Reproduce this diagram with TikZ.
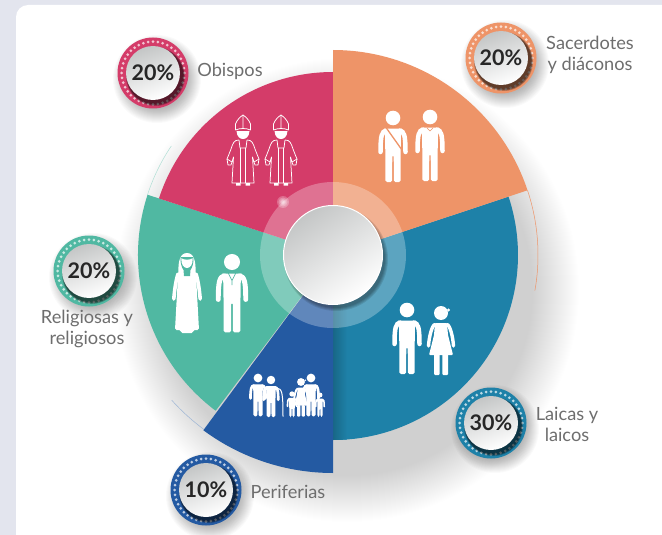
\documentclass[tikz,border=0pt]{standalone}
\usepackage{fontspec}
\setmainfont{Lato}
\definecolor{cRed}{HTML}{D43C69}
\definecolor{cOrange}{HTML}{EE9468}
\definecolor{cBlue}{HTML}{1E81A8}
\definecolor{cNavy}{HTML}{245AA2}
\definecolor{cTeal}{HTML}{50B8A2}
\definecolor{cPage}{HTML}{E3E5EE}
\definecolor{cLabel}{HTML}{6E6E6E}
\definecolor{cDisc}{HTML}{C4C6C6}
\tikzset{
  lbl/.style={text=cLabel,align=center,font=\fontsize{18.2}{21}\selectfont,inner sep=0pt},
  badgedisc/.style={circle,minimum size=54pt,inner sep=0pt,top color=cDisc,bottom color=white,shading angle=20,text=black!85,font=\bfseries\fontsize{21.5}{23}\selectfont},
  thinarc/.style={line width=.5pt},
}
\newcommand\sector[4]{\fill[#1] (0,0) -- (#2:#4) arc[start angle=#2,end angle=#3,radius=#4] -- cycle;}
\newcommand\badge[5]{% name,x,y,colour,text
  \begin{scope}[shift={(#2,-#3)}]
    \foreach \r in {44,43,...,30} \fill[black,opacity=.018] (4,-6) circle (\r);
    \fill[#4] (0,0) circle (35.5);
    \foreach \a in {0,9,...,351} \fill[white,opacity=.7] (\a:31.3) circle (1.5);
    \foreach \r in {29.5,29,28.5,28} \fill[black,opacity=.2] (2.5,-3.5) circle (\r);
  \end{scope}
  \node[badgedisc] (#1) at (#2,-#3) {#5};
}
\newcommand\manicon[4]{% x, head y, scale, extra
  \begin{scope}[shift={(#1,-#2)},xscale=#3,yscale=-#3]
    \fill[white] (0,0) circle (7.3);
    \fill[white,rounded corners=1.5pt] (-10,10.5) -- (10,10.5) -- (8,16) -- (7.6,40) -- (7.5,64) -- (.9,64) -- (.7,37) -- (-.7,37) -- (-.9,64) -- (-7.5,64) -- (-7.6,40) -- (-8,16) -- cycle;
    \draw[white,line width=#3*4.5pt,line cap=round] (-7,12.6) .. controls (-11,13.5) and (-12.5,17) .. (-12.5,34);
    \draw[white,line width=#3*4.5pt,line cap=round] (7,12.6) .. controls (11,13.5) and (12.5,17) .. (12.5,34);
    #4
  \end{scope}
}
\newcommand\womanicon[3]{% x, head y, scale
  \begin{scope}[shift={(#1,-#2)},xscale=#3,yscale=-#3]
    \fill[white] (0,0) circle (7);
    \fill[white] (7.5,-3) circle (1.6);
    \fill[white,rounded corners=1pt] (-6,10) -- (6,10) -- (7,22) -- (12,42) -- (-12,42) -- (-7,22) -- cycle;
    \fill[white,rounded corners=1pt] (-7,41) -- (-1.3,41) -- (-1.3,62) -- (-7,62) -- cycle;
    \fill[white,rounded corners=1pt] (7,41) -- (1.3,41) -- (1.3,62) -- (7,62) -- cycle;
    \draw[white,line width=#3*3.4pt,line cap=round] (-6,11.5) .. controls (-9,12) and (-12,24) .. (-12.5,33);
    \draw[white,line width=#3*3.4pt,line cap=round] (6,11.5) .. controls (9,12) and (12,24) .. (12.5,33);
  \end{scope}
}
\newcommand\bishopicon[1]{% x
  \begin{scope}[shift={(#1,-115)},yscale=-1,white,line width=.75pt,line join=round]
    \draw (-7.5,15) -- (-7.5,9) .. controls (-6,5) and (-3,2) .. (0,0) .. controls (3,2) and (6,5) .. (7.5,9) -- (7.5,15);
    \draw (-7.5,15) .. controls (-3,13) and (3,13) .. (7.5,15) (0,0) -- (0,13.5);
    \fill (-6.5,16) -- (6.5,16) .. controls (6,22) and (3,24) .. (0,24) .. controls (-3,24) and (-6,22) .. (-6.5,16) -- cycle;
    \draw (-4,25) .. controls (-9,25) and (-10,28) .. (-12,34) .. controls (-14,39) and (-15,42) .. (-16,44) -- (-11,47) -- (-9.5,42) -- (-11,68) -- (11,68) -- (9.5,42) -- (11,47) -- (16,44) .. controls (15,42) and (14,39) .. (12,34) .. controls (10,28) and (9,25) .. (4,25);
    \draw (-4,25) -- (-3,33) -- (3,33) -- (4,25);
    \draw (-2.2,33) -- (-2.2,68) (2.2,33) -- (2.2,68);
    \draw (-16,44) -- (-15,50) -- (-12,50) -- (-11,47) (16,44) -- (15,50) -- (12,50) -- (11,47);
    \fill (-7,68) rectangle (-2.5,70.5) (2.5,68) rectangle (7,70.5);
  \end{scope}
}
\begin{document}
\begin{tikzpicture}[x=1pt,y=1pt]
\useasboundingbox (0,0) rectangle (662,-535);
\clip (0,0) rectangle (662,-535);
\fill[cPage] (0,0) rectangle (662,-535);
\fill[white,rounded corners=12pt] (16,-5) rectangle (700,-580);
% soft shadow below the pie
\begin{scope}
  \clip (16,-5) rectangle (662,-535);
  \foreach \r in {186,187,...,232} \fill[black,opacity=.0042] (347,-290) circle (\r);
\end{scope}
\begin{scope}[shift={(333,-255)}]
  \draw[cOrange,thinarc] (18.4:205) arc[start angle=18.4,end angle=-10,radius=205];
  \draw[cTeal!45,thinarc] (162:195) arc[start angle=162,end angle=146,radius=195];
  \draw[cNavy!45,thinarc] (233.5:217) arc[start angle=233.5,end angle=222,radius=217];
  \sector{cBlue}{-90}{18.4}{185}
  \begin{scope}
    \clip (0,0) circle (185);
    \shade[left color=cBlue!80!black,right color=cBlue] (0,0) rectangle (14,-186);
  \end{scope}
  \sector{cNavy}{233.5}{270}{218}
  \sector{cTeal}{162}{233}{195}
  \sector{cRed}{90}{162}{183}
  \sector{cOrange}{18.4}{90}{205}
  % translucent halo
  \fill[white,opacity=.28] (0,0) circle (73);
  \foreach \r in {6,4.5,3,2,1} \fill[white,opacity=.25] (-50,53) circle (\r);
  % centre disc
  \foreach \r in {52,51,...,49} \fill[black,opacity=.1] (3,-4) circle (\r);
  \shade[top color=cDisc,bottom color=white,shading angle=35,draw=white,line width=1pt] (0,0) circle (49.5);
\end{scope}
% icons
\manicon{393}{118}{1}{\draw[cOrange,line width=1.3pt] (-7,9.5) -- (9,32);}
\manicon{430}{117}{1}{\draw[cOrange,line width=.6pt] (-3,11) -- (0,14) -- (3,11);}
\manicon{407}{310}{1}{}
\womanicon{441}{313}{1}
\manicon{232}{262}{1.1}{\draw[cTeal,line width=.7pt] (-3.5,10) -- (0,17) -- (3.5,10) (0,17) -- (0,21);}
% nun
\begin{scope}[shift={(187,-260)},yscale=-1]
  \fill[white] (-8.5,16) .. controls (-9,5) and (-8.5,-7) .. (0,-7) .. controls (8.5,-7) and (9,5) .. (8.5,16) -- cycle;
  \fill[white,rounded corners=1.5pt] (-9,15) -- (9,15) -- (12,70) -- (6,70) -- (6,73) -- (-6,73) -- (-6,70) -- (-12,70) -- cycle;
  \draw[white,line width=3.6pt,line cap=round] (-9,14) .. controls (-11,20) and (-12.5,30) .. (-13.2,39);
  \draw[white,line width=3.6pt,line cap=round] (9,14) .. controls (11,20) and (12.5,30) .. (13.2,39);
  \fill[cTeal] (-6.5,-3) -- (6.5,-3) .. controls (7,3) and (5,8) .. (3.5,10) -- (3,16) -- (-3,16) -- (-3.5,10) .. controls (-5,8) and (-7,3) .. (-6.5,-3) -- cycle;
  \fill[white] (-5.7,-1.8) .. controls (-3,.2) and (3,.2) .. (5.7,-1.8) .. controls (6,5) and (3,8) .. (0,8) .. controls (-3,8) and (-6,5) .. (-5.7,-1.8) -- cycle;
\end{scope}
\bishopicon{243}
\bishopicon{281}
% family
\manicon{258}{378}{.6}{}
\manicon{271}{380}{.58}{}
\draw[white,line width=1pt] (277,-388) .. controls (282,-389) and (283,-392) .. (283,-416.5);
\womanicon{301}{382}{.56}
\manicon{311}{378}{.6}{}
\manicon{292}{394}{.36}{}
\manicon{320}{395}{.34}{}
% badges
\badge{bObispos}{153}{73}{cRed}{20\%}
\badge{bSacerdotes}{501}{58}{cOrange}{20\%}
\badge{bReligiosas}{89}{271}{cTeal}{20\%}
\badge{bPeriferias}{206}{490}{cNavy}{10\%}
\badge{bLaicas}{491}{423}{cBlue}{30\%}
% labels
\node[lbl] (lObispos) at (230,-71) {Obispos};
\node[lbl] (lSacerdotes) at (590,-55) {Sacerdotes\\y diáconos};
\node[lbl] (lReligiosas) at (87,-329) {Religiosas y\\religiosos};
\node[lbl] (lPeriferias) at (288,-492) {Periferias};
\node[lbl] (lLaicas) at (567,-424) {Laicas y\\laicos};
\end{tikzpicture}
\end{document}
